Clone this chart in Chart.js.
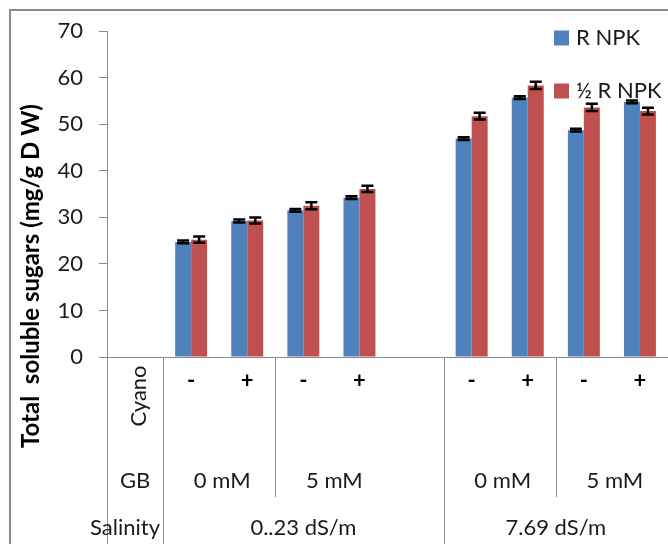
<!DOCTYPE html>
<html>
<head>
<meta charset="utf-8">
<script src="https://cdn.jsdelivr.net/npm/chart.js@4/dist/chart.umd.min.js"></script>
<style>
html,body{margin:0;padding:0;background:#fff;}
#wrap{position:relative;width:668px;height:544px;}
</style>
</head>
<body>
<div id="wrap"><canvas id="c" width="668" height="544"></canvas></div>
<script>
// ---- data ----
const categories = ["", "0mM -", "0mM +", "5mM -", "5mM +", " ", "0mM - ", "0mM + ", "5mM - ", "5mM + "];
const cyanoLabels = ["", "-", "+", "-", "+", "", "-", "+", "-", "+"];
const gbLabels = [
  {text: "0 mM", from: 1, to: 2},
  {text: "5 mM", from: 3, to: 4},
  {text: "0 mM", from: 6, to: 7},
  {text: "5 mM", from: 8, to: 9}
];
const salinityLabels = [
  {text: "0..23 dS/m", from: 1, to: 5},
  {text: "7.69 dS/m", from: 6, to: 9}
];
const seriesNames = ["R NPK", "\u00BD R NPK"];
const rNPK =      [null, 24.7, 29.2, 31.5, 34.2, null, 46.9, 55.7, 48.7, 54.8];
const halfRNPK =  [null, 25.2, 29.3, 32.5, 36.1, null, 51.7, 58.3, 53.6, 52.8];
const rNPKErr =   [null, 0.3, 0.3, 0.3, 0.3, null, 0.3, 0.3, 0.3, 0.3];
const halfErr =   [null, 0.65, 0.65, 0.75, 0.68, null, 0.72, 0.78, 0.78, 0.74];
const yTicks = [0, 10, 20, 30, 40, 50, 60, 70];
const yTitle = "Total  soluble sugars (mg/g D W)";

const FONT = "Lato, 'Open Sans', sans-serif";
const BLUE = "#4F81BD", RED = "#C0504D", GRAY = "#8C8C8C";

const errors = [rNPKErr, halfErr];

const extras = {
  id: "extras",
  beforeDraw(chart) {
    const ctx = chart.ctx;
    ctx.save();
    ctx.fillStyle = "#fff";
    ctx.fillRect(0, 0, chart.width, chart.height);
    // outer frame
    ctx.strokeStyle = "#8a8a8a";
    ctx.lineWidth = 2;
    ctx.beginPath();
    ctx.moveTo(10, chart.height + 2);
    ctx.lineTo(10, 10);
    ctx.lineTo(chart.width + 2, 10);
    ctx.stroke();
    ctx.restore();
  },
  afterDatasetsDraw(chart) {
    const ctx = chart.ctx;
    const y = chart.scales.y;
    ctx.save();
    ctx.strokeStyle = "#000";
    ctx.lineWidth = 2.5;
    errors.forEach((errArr, di) => {
      const meta = chart.getDatasetMeta(di);
      const vals = chart.data.datasets[di].data;
      meta.data.forEach((bar, i) => {
        if (vals[i] == null || errArr[i] == null) return;
        const yt = y.getPixelForValue(vals[i] + errArr[i]);
        const yb = y.getPixelForValue(vals[i] - errArr[i]);
        const half = 6;
        ctx.beginPath();
        ctx.moveTo(bar.x, yt); ctx.lineTo(bar.x, yb);
        ctx.moveTo(bar.x - half, yt); ctx.lineTo(bar.x + half, yt);
        ctx.moveTo(bar.x - half, yb); ctx.lineTo(bar.x + half, yb);
        ctx.stroke();
      });
    });
    ctx.restore();
  },
  afterDraw(chart) {
    const ctx = chart.ctx;
    const x = chart.scales.x;
    const area = chart.chartArea;
    const px = i => x.getPixelForValue(i);
    const step = px(1) - px(0);
    const bound = i => px(i) + step / 2; // boundary to the right of category i
    ctx.save();
    // x axis line
    ctx.strokeStyle = GRAY;
    ctx.lineWidth = 1;
    ctx.beginPath();
    ctx.moveTo(area.left - 8, area.bottom + 0.5);
    ctx.lineTo(area.right, area.bottom + 0.5);
    ctx.stroke();
    // table lines
    const bottom = chart.height;
    const midRowBottom = 497;
    const lines = [
      {x: area.left, full: true},
      {x: bound(0), full: true},
      {x: bound(2), full: false},
      {x: bound(5), full: true},
      {x: bound(7), full: false}
    ];
    ctx.beginPath();
    lines.forEach(l => {
      const xx = Math.round(l.x) + 0.5;
      ctx.moveTo(xx, area.bottom);
      ctx.lineTo(xx, l.full ? bottom : midRowBottom);
    });
    ctx.stroke();

    // cyano row
    ctx.fillStyle = "#000";
    ctx.font = "bold 22px " + FONT;
    ctx.textAlign = "center";
    ctx.textBaseline = "middle";
    cyanoLabels.forEach((t, i) => { if (t) ctx.fillText(t, px(i), 381); });

    ctx.font = "22px " + FONT;
    ctx.fillStyle = "#1a1a1a";
    // rotated "Cyano"
    ctx.save();
    ctx.translate(px(0) + 4, 396);
    ctx.rotate(-Math.PI / 2);
    ctx.fillText("Cyano", 0, 0);
    ctx.restore();

    // GB row
    ctx.fillText("GB", px(0), 481);
    gbLabels.forEach(g => ctx.fillText(g.text, (px(g.from) + px(g.to)) / 2 + 3, 481));
    // Salinity row
    ctx.fillText("Salinity", px(0) - 10, 528);
    salinityLabels.forEach(g => ctx.fillText(g.text, (bound(g.from - 1) + bound(g.to)) / 2, 528));

    // y axis title
    ctx.save();
    ctx.font = "bold 24px " + FONT;
    ctx.fillStyle = "#000";
    ctx.translate(31, 276);
    ctx.rotate(-Math.PI / 2);
    ctx.fillText(yTitle, 0, 0);
    ctx.restore();

    // legend
    const legendItems = [
      {name: seriesNames[0], color: BLUE, y: 38},
      {name: seriesNames[1], color: RED, y: 91}
    ];
    ctx.textAlign = "left";
    ctx.font = "22px " + FONT;
    legendItems.forEach(l => {
      ctx.fillStyle = l.color;
      ctx.fillRect(554, l.y - 7.5, 15, 15);
      ctx.fillStyle = "#1a1a1a";
      ctx.fillText(l.name, 576, l.y);
    });
    ctx.restore();
  }
};

new Chart(document.getElementById("c"), {
  type: "bar",
  data: {
    labels: categories,
    datasets: [
      {label: seriesNames[0], data: rNPK, backgroundColor: BLUE, borderWidth: 0},
      {label: seriesNames[1], data: halfRNPK, backgroundColor: RED, borderWidth: 0}
    ]
  },
  options: {
    responsive: false,
    animation: false,
    devicePixelRatio: 1,
    layout: {padding: {left: 0, right: 0, top: 31, bottom: 187}},
    plugins: {legend: {display: false}, tooltip: {enabled: false}, title: {display: false}},
    datasets: {bar: {categoryPercentage: 0.57, barPercentage: 1.0}},
    scales: {
      x: {display: false},
      y: {
        min: 0, max: 70,
        afterFit(s) { s.width = 107; },
        afterBuildTicks(s) { s.ticks = yTicks.map(v => ({value: v})); },
        grid: {drawOnChartArea: false, tickLength: 8, color: GRAY},
        border: {color: GRAY, width: 1},
        ticks: {padding: 16, color: "#1a1a1a", font: {family: FONT, size: 22}}
      }
    }
  },
  plugins: [extras]
});
</script>
</body>
</html>
